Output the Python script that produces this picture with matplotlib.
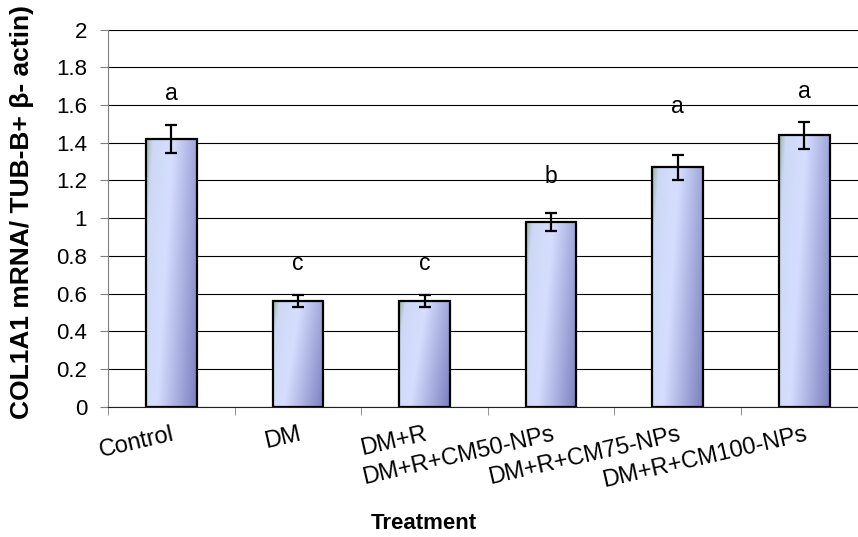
import matplotlib.pyplot as plt
import numpy as np
from matplotlib.colors import LinearSegmentedColormap

plt.rcParams['font.family'] = ['Liberation Sans', 'DejaVu Sans']

treatments = ["Control", "DM", "DM+R", "DM+R+CM50-NPs", "DM+R+CM75-NPs", "DM+R+CM100-NPs"]
means = [1.42, 0.56, 0.56, 0.98, 1.27, 1.44]
errors = [0.072, 0.03, 0.03, 0.05, 0.065, 0.072]
letters = ["a", "c", "c", "b", "a", "a"]
letter_y = [1.66, 0.76, 0.76, 1.22, 1.59, 1.67]

fig = plt.figure(figsize=(8.58, 5.37), dpi=100)
# plot area runs past the right edge of the figure
ax = fig.add_axes([0.1259, 0.2427, 0.8853, 0.702])

x = np.arange(len(treatments))
width = 0.40

# shaded fill for the bars
cmap = LinearSegmentedColormap.from_list("barfill", [
    (0.0, (0.62, 0.70, 0.64)),
    (0.10, (0.80, 0.85, 0.96)),
    (0.40, (0.84, 0.87, 1.00)),
    (1.0, (0.48, 0.50, 0.75)),
])
u = np.linspace(0, 1, 100)
v = np.linspace(1, 0, 200)
U, V = np.meshgrid(u, v)
shade = np.clip(0.75 * U + 0.25 * (1 - V), 0, 1)

bars = ax.bar(x, means, width=width, facecolor='none', edgecolor='black',
              linewidth=1.6, zorder=3)
for b, m in zip(bars, means):
    im = ax.imshow(shade, cmap=cmap, vmin=0, vmax=1, aspect='auto',
                   extent=(b.get_x(), b.get_x() + b.get_width(), 0, m), zorder=2)
    im.set_clip_path(b)

ax.errorbar(x, means, yerr=errors, fmt='none', ecolor='black', elinewidth=1.6,
            capsize=4.5, capthick=1.6, zorder=4)

for xi, t, ly in zip(x, letters, letter_y):
    ax.text(xi, ly, t, ha='center', va='center', fontsize=16.5)

ax.set_xlim(-0.5, len(treatments) - 0.5)
ax.set_ylim(0, 2)
ax.set_yticks(np.arange(0, 2.01, 0.2))
ax.set_yticklabels(["0", "0.2", "0.4", "0.6", "0.8", "1", "1.2", "1.4", "1.6", "1.8", "2"])
ax.yaxis.grid(True, color='black', linewidth=0.8)
ax.set_axisbelow(True)

ax.set_xticks(x)
ax.set_xticklabels(treatments, rotation=13, ha='right', va='top',
                   rotation_mode='anchor', fontsize=17)
ax.tick_params(axis='x', length=0, pad=12)
ax.set_xticks(np.arange(-0.5, len(treatments)), minor=True)
ax.tick_params(axis='x', which='minor', length=6, color='gray')
ax.tick_params(axis='y', labelsize=16, length=6, color='gray', pad=9)

for s in ['top', 'right']:
    ax.spines[s].set_visible(False)
ax.spines['left'].set_color('gray')
ax.spines['bottom'].set_color('#222222')

fig.text(0.026, 0.605, "COL1A1 mRNA/ TUB-B+ β- actin)", rotation=90,
         ha='center', va='center', fontsize=19, fontweight='bold')
fig.text(0.494, 0.026, "Treatment", ha='center', va='center', fontsize=16, fontweight='bold')

fig.savefig("out.png", dpi=100)
